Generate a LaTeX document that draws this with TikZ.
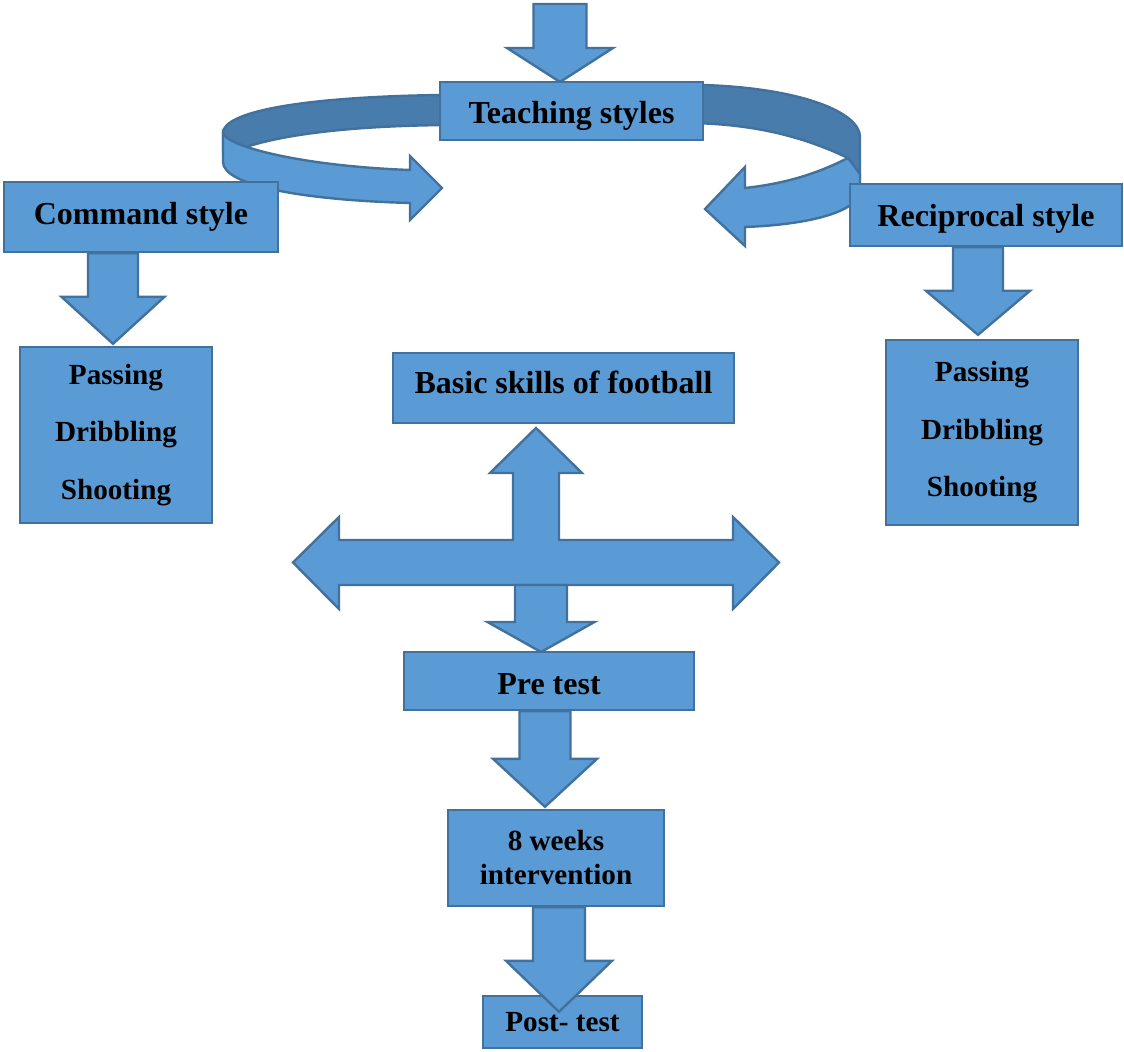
\documentclass[tikz,border=0pt]{standalone}
\usepackage{fontspec}
\setmainfont{Liberation Serif}
\usetikzlibrary{calc}
\definecolor{boxblue}{RGB}{91,155,213}
\definecolor{edgeblue}{RGB}{65,113,156}
\definecolor{backblue}{RGB}{72,124,172}

% block arrow pointing down: start, tip, half shaft, half head, head length
\newcommand{\downblock}[5]{%
  \filldraw[blockarrow] let \p1=(#1), \p2=(#2) in
    (\x2-#3,\y1) -- (\x2+#3,\y1) -- (\x2+#3,\y2+#5) -- (\x2+#4,\y2+#5)
    -- (\x2,\y2) -- (\x2-#4,\y2+#5) -- (\x2-#3,\y2+#5) -- cycle;
}

\begin{document}
\begin{tikzpicture}[x=0.5pt,y=-0.5pt,
  flowbox/.style={draw=edgeblue, fill=boxblue, line width=1.2pt, inner sep=0pt,
    font=\fontsize{16}{19.2}\selectfont\bfseries, align=center},
  skilllist/.style={font=\fontsize{14.6}{28.75}\selectfont\bfseries},
  blockarrow/.style={draw=edgeblue, fill=boxblue, line width=1.2pt, line join=miter},
  backside/.style={draw=edgeblue, fill=backblue, line width=1.2pt}]
\useasboundingbox (0,0) rectangle (1124,1052);

% ribbon arrows round the title
\filldraw[backside] (460,95) -- (440,95) .. controls (300,97) and (223,112) .. (223,133)
  -- (223,152) -- (243,148) .. controls (290,132) and (370,125) .. (460,125) -- cycle;
\filldraw[blockarrow] (223,133) .. controls (226,146) and (300,166) .. (410,170)
  -- (410,156) -- (442,188) -- (410,220) -- (410,203)
  .. controls (300,200) and (223,185) .. (223,162) -- cycle;
\filldraw[backside] (690,85) -- (703,85) .. controls (800,88) and (860,112) .. (860,137)
  -- (860,176) -- (848,158) .. controls (800,135) and (750,124) .. (690,123) -- cycle;
\filldraw[blockarrow] (745,188) .. controls (790,183) and (820,172) .. (848,158)
  -- (860,174) -- (860,195) .. controls (850,215) and (800,225) .. (745,227)
  -- (745,246) -- (705,209) -- (745,167) -- cycle;

\coordinate (topin) at (560,4);
\coordinate (hubout) at (541,585);

\downblock{topin}{$(571.5,82)+(-11.5,0)$}{13.25pt}{26.5pt}{17pt}

\node[flowbox, text height=16pt, text depth=3.5pt, minimum width=131.5pt, minimum height=29pt] (teach) at (571.5,111) {Teaching styles};
\node[flowbox, minimum width=137pt, minimum height=35pt] (command) at (141,217) {Command style};
\node[flowbox, text height=15pt, text depth=3.5pt, minimum width=136pt, minimum height=31pt] (recip) at (986,215) {Reciprocal style};
\node[flowbox, skilllist, minimum width=96pt, minimum height=88pt] (cmdskills) at (116,435) {Passing\\Dribbling\\Shooting};
\node[flowbox, skilllist, minimum width=96pt, minimum height=92.5pt] (recskills) at (982,432.5) {Passing\\Dribbling\\Shooting};
\node[flowbox, text height=11pt, text depth=5.5pt, minimum width=170.5pt, minimum height=35pt] (basic) at (563.5,388) {Basic skills of football};

\downblock{command.south}{$(cmdskills.north)+(-3,-2)$}{12.5pt}{25.75pt}{23.5pt}
\downblock{recip.south}{$(recskills.north)+(-4,-4)$}{12.5pt}{26pt}{22pt}

% four-way arrow under the skills box
\filldraw[blockarrow] (536,428) -- (582,473) -- (559,473) -- (559,540) -- (733,540)
  -- (733,517) -- (779,562.5) -- (733,609) -- (733,585) -- (339,585) -- (339,609)
  -- (293,562.5) -- (339,517) -- (339,540) -- (513,540) -- (513,473) -- (490,473) -- cycle;

\downblock{hubout}{$(549,652)+(-8,0)$}{13pt}{26.75pt}{15pt}

\node[flowbox, text height=14pt, text depth=0pt, minimum width=145pt, minimum height=29pt] (pretest) at (549,681) {Pre test};
\node[flowbox, font=\fontsize{14.6}{17}\selectfont\bfseries, minimum width=108pt, minimum height=48pt] (weeks) at (556,858) {8 weeks\\intervention};
\node[flowbox, font=\fontsize{14.6}{17}\selectfont\bfseries, minimum width=79.5pt, minimum height=26pt] (posttest) at (562.5,1022) {Post- test};

\downblock{pretest.south}{$(weeks.north)+(-11,-2)$}{12.75pt}{26pt}{24pt}
\downblock{weeks.south}{$(posttest.north)+(-3.5,17)$}{13pt}{26.5pt}{25.5pt}

\end{tikzpicture}
\end{document}
